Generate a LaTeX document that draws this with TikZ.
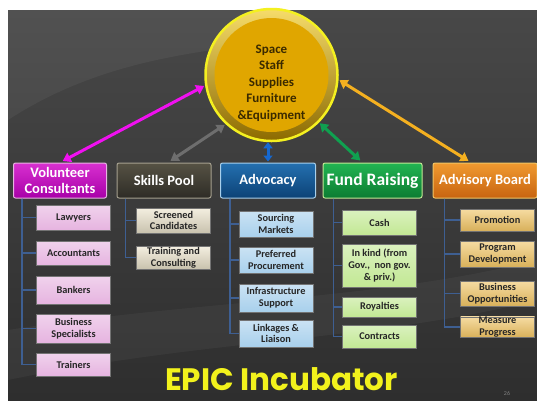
\documentclass[tikz,border=0pt]{standalone}
\usepackage{fontspec}
\setmainfont{Carlito}
\newfontfamily\titlefont{Poppins}
\usetikzlibrary{arrows.meta}
\definecolor{bgtop}{HTML}{484848}
\definecolor{bgbot}{HTML}{2E2E2E}
\definecolor{ringlight}{HTML}{F6DC6A}
\definecolor{ringdark}{HTML}{8C6A00}
\definecolor{hubgold}{HTML}{E0A600}
\definecolor{hubline}{HTML}{F4F020}
\definecolor{hubtext}{HTML}{3A2A00}
\definecolor{treeblue}{HTML}{3E5F92}
\definecolor{magtop}{HTML}{D830D0}
\definecolor{magbot}{HTML}{A800A8}
\definecolor{magsub}{HTML}{E6B4E0}
\definecolor{greytop}{HTML}{565244}
\definecolor{greybot}{HTML}{2E2C26}
\definecolor{greysub}{HTML}{ECE4CC}
\definecolor{bluetop}{HTML}{2470B0}
\definecolor{bluebot}{HTML}{0C4276}
\definecolor{bluesub}{HTML}{A8D0EC}
\definecolor{greentop}{HTML}{22B452}
\definecolor{greenbot}{HTML}{0C7C32}
\definecolor{greensub}{HTML}{C2E894}
\definecolor{orgtop}{HTML}{F09A30}
\definecolor{orgbot}{HTML}{C86410}
\definecolor{orgsub}{HTML}{F0C464}
\definecolor{linkmag}{HTML}{F010F0}
\definecolor{linkgrey}{HTML}{6E6E6E}
\definecolor{linkblue}{HTML}{1668D0}
\definecolor{linkgreen}{HTML}{10A050}
\definecolor{linkorg}{HTML}{F4B020}
\definecolor{epic}{HTML}{F2F21C}
\tikzset{
	align=center,
	hub/.style={
		circle,
		minimum size=132pt,
		draw=hubline,
		line width=2.5pt,
		top color=ringlight,
		bottom color=ringdark,
	},
	hubin/.style={
		circle,
		minimum size=114pt,
		fill=hubgold,
	},
	hubtxt/.style={
		text=hubtext,
		font=\fontsize{13}{16.5}\selectfont\bfseries,
	},
	head/.style={
		rounded corners=2pt,
		line width=1pt,
		minimum height=35pt,
		inner sep=1pt,
		text=white,
		font=\fontsize{14.5}{16}\selectfont\bfseries,
	},
	sub/.style={
		draw=black!55,
		line width=0.6pt,
		minimum width=74pt,
		inner xsep=1pt,
		inner ysep=0pt,
		text=black!85,
		font=\fontsize{10.3}{11.8}\selectfont\bfseries,
	},
	link/.style={
		line width=3pt,
		shorten <=1pt,
		shorten >=3pt,
		{Triangle[length=8pt,width=10pt]}-{Triangle[length=8pt,width=10pt]}
	},
	tree/.style={
		draw=treeblue,
		line width=1.2pt,
	},
}

\begin{document}
\begin{tikzpicture}[
		x=1pt,y=-1pt,
		volsub/.style={sub,top color=magsub!60!white,bottom color=magsub},
		skillsub/.style={sub,top color=greysub!60!white,bottom color=greysub!85!black},
		advosub/.style={sub,top color=bluesub!60!white,bottom color=bluesub},
		fundsub/.style={sub,top color=greensub!60!white,bottom color=greensub},
		boardsub/.style={sub,top color=orgsub!60!white,bottom color=orgsub!90!black},
	]
		\useasboundingbox (0,0) rectangle (537,400);
		\fill[white] (0,0) rectangle (537,400);
		\shade[top color=bgtop,bottom color=bgbot] (8,10) rectangle (537,400);
		\fill[white,opacity=0.05] (8,120) .. controls (100,60) and (200,50) .. (300,40) -- (300,10) -- (8,10) -- cycle;
		\fill[white,opacity=0.04] (8,330) .. controls (200,300) and (380,300) .. (537,260) -- (537,300) .. controls (380,340) and (200,340) .. (8,380) -- cycle;

		\node[hub]    (hub) at (271.5,75) {};
		\node[hubin]  (hubin) at (hub) {};
		\node[hubtxt] (supplies) at (271.5,83) {Space\\Staff\\Supplies\\Furniture\\\&Equipment};

		\node[head,top color=magtop,bottom color=magbot,draw=magsub,minimum width=93pt]       (vol) at (60,180.5) {Volunteer\\Consultants};
		\node[head,top color=greytop,bottom color=greybot,draw=greysub!70!black,minimum width=94pt] (skills) at (164,180.5) {Skills Pool};
		\node[head,top color=bluetop,bottom color=bluebot,draw=bluesub,minimum width=95pt]     (advo) at (268,180.5) {Advocacy};
		\node[head,top color=greentop,bottom color=greenbot,draw=greensub,minimum width=99pt,font=\fontsize{17.5}{18}\selectfont\bfseries]  (fund) at (372.5,180.5) {Fund Raising};
		\node[head,top color=orgtop,bottom color=orgbot,draw=orgsub,minimum width=104pt]       (board) at (485,180.5) {Advisory Board};

		\node[volsub,minimum height=25pt] (lawyers) at (73.5,217.5) {Lawyers};
		\node[volsub,minimum height=24pt] (account) at (73.5,253) {Accountants};
		\node[volsub,minimum height=28pt] (bankers) at (73.5,290) {Bankers};
		\node[volsub,minimum height=29pt] (special) at (73.5,328.5) {Business\\Specialists};
		\node[volsub,minimum height=23pt] (trainers) at (73.5,364.5) {Trainers};

		\node[skillsub,minimum height=25pt] (screened) at (173.5,220.5) {Screened\\Candidates};
		\node[skillsub,minimum height=23pt] (training) at (173.5,257.5) {Training and\\Consulting};

		\node[advosub,minimum height=26pt] (sourcing) at (276,224) {Sourcing\\Markets};
		\node[advosub,minimum height=26pt] (procure) at (276,260) {Preferred\\Procurement};
		\node[advosub,minimum height=28pt] (infra) at (276,298) {Infrastructure\\Support};
		\node[advosub,minimum height=27pt] (linkage) at (276,333.5) {Linkages \&\\Liaison};

		\node[fundsub,minimum height=25pt] (cash) at (379.5,222.5) {Cash};
		\node[fundsub,minimum height=43pt] (inkind) at (379.5,265.5) {In kind (from\\Gov.,\ \ non gov.\\\& priv.)};
		\node[fundsub,minimum height=20pt] (royal) at (379.5,307) {Royalties};
		\node[fundsub,minimum height=23pt] (contract) at (379.5,336.5) {Contracts};

		\node[boardsub,minimum height=22pt] (promo) at (497.5,220) {Promotion};
		\node[boardsub,minimum height=26pt] (program) at (497.5,254) {Program\\Development};
		\node[boardsub,minimum height=25pt] (busopp) at (497.5,293.5) {Business\\Opportunities};
		\node[boardsub,minimum height=20pt] (measure) at (497.5,327) {Measure\\Progress};

		\draw[tree] ([xshift=9pt]vol.south west) |- (lawyers.west);
		\draw[tree] ([xshift=9pt]vol.south west) |- (account.west);
		\draw[tree] ([xshift=9pt]vol.south west) |- (bankers.west);
		\draw[tree] ([xshift=9pt]vol.south west) |- (special.west);
		\draw[tree] ([xshift=9pt]vol.south west) |- (trainers.west);
		\draw[tree] ([xshift=9pt]skills.south west) |- (screened.west);
		\draw[tree] ([xshift=9pt]skills.south west) |- (training.west);
		\draw[tree] ([xshift=10pt]advo.south west) |- (sourcing.west);
		\draw[tree] ([xshift=10pt]advo.south west) |- (procure.west);
		\draw[tree] ([xshift=10pt]advo.south west) |- (infra.west);
		\draw[tree] ([xshift=10pt]advo.south west) |- (linkage.west);
		\draw[tree] ([xshift=11pt]fund.south west) |- (cash.west);
		\draw[tree] ([xshift=11pt]fund.south west) |- (inkind.west);
		\draw[tree] ([xshift=11pt]fund.south west) |- (royal.west);
		\draw[tree] ([xshift=11pt]fund.south west) |- (contract.west);
		\draw[tree] ([xshift=12pt]board.south west) |- (promo.west);
		\draw[tree] ([xshift=12pt]board.south west) |- (program.west);
		\draw[tree] ([xshift=12pt]board.south west) |- (busopp.west);
		\draw[tree] ([xshift=12pt]board.south west) |- (measure.west);

		\draw[link,draw=linkmag,fill=linkmag] (hub.189) -- (vol.north);
		\draw[link,draw=linkgrey,fill=linkgrey] (hub.227) -- ([xshift=4pt]skills.north);
		\draw[link,draw=linkblue,fill=linkblue,shorten <=0pt,shorten >=1pt,{Triangle[length=6pt,width=9pt]}-{Triangle[length=6pt,width=9pt]}] (advo.north |- hub.south) -- (advo.north);
		\draw[link,draw=linkgreen,fill=linkgreen] (hub.315) -- ([xshift=-10pt]fund.north);
		\draw[link,draw=linkorg,fill=linkorg] (hub.356) -- ([xshift=-14pt]board.north);

		\node[text=epic,font=\titlefont\fontsize{31}{31}\selectfont\bfseries] (title) at (281.5,379) {EPIC Incubator};
		\node[text=black!50,font=\fontsize{6}{6}\selectfont] (page) at (507,393) {26};

	\end{tikzpicture}
\end{document}
